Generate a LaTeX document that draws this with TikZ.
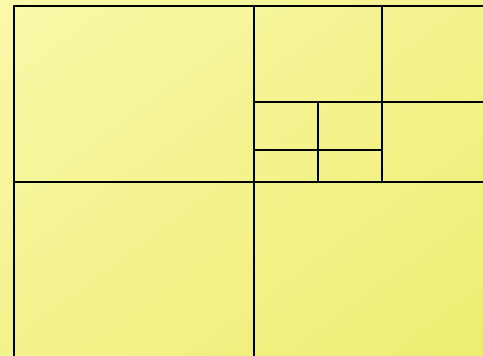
\documentclass[tikz,border=0pt]{standalone}
\usetikzlibrary{shadings}
\definecolor{ylA}{HTML}{F9F9AA}
\definecolor{ylB}{HTML}{EDED72}
\definecolor{ylM}{HTML}{F3F38E}
\tikzset{gridline/.style={draw=black,line width=2bp}}
\begin{document}
\begin{tikzpicture}[x=1bp,y=-1bp]
\useasboundingbox (0,0) rectangle (483,355);
\shade[upper left=ylA,upper right=ylM,lower left=ylM,lower right=ylB] (0,0) rectangle (483,355);
\clip (0,0) rectangle (483,355);
\coordinate (tl) at (14,6);
\coordinate (tr) at (490,6);
\coordinate (bl) at (14,362);
\coordinate (m1t) at (254,6);
\coordinate (m1b) at (254,362);
\coordinate (h1l) at (14,182);
\coordinate (h1r) at (490,182);
\coordinate (v2t) at (382,6);
\coordinate (v2b) at (382,182);
\coordinate (h2l) at (254,102);
\coordinate (h2r) at (490,102);
\coordinate (v3t) at (318,102);
\coordinate (v3b) at (318,182);
\coordinate (h3l) at (254,150);
\coordinate (h3r) at (382,150);
\draw[gridline] (bl) -- (tl) -- (tr);
\draw[gridline] (m1t) -- (m1b);
\draw[gridline] (h1l) -- (h1r);
\draw[gridline] (v2t) -- (v2b);
\draw[gridline] (h2l) -- (h2r);
\draw[gridline] (v3t) -- (v3b);
\draw[gridline] (h3l) -- (h3r);
\end{tikzpicture}
\end{document}
